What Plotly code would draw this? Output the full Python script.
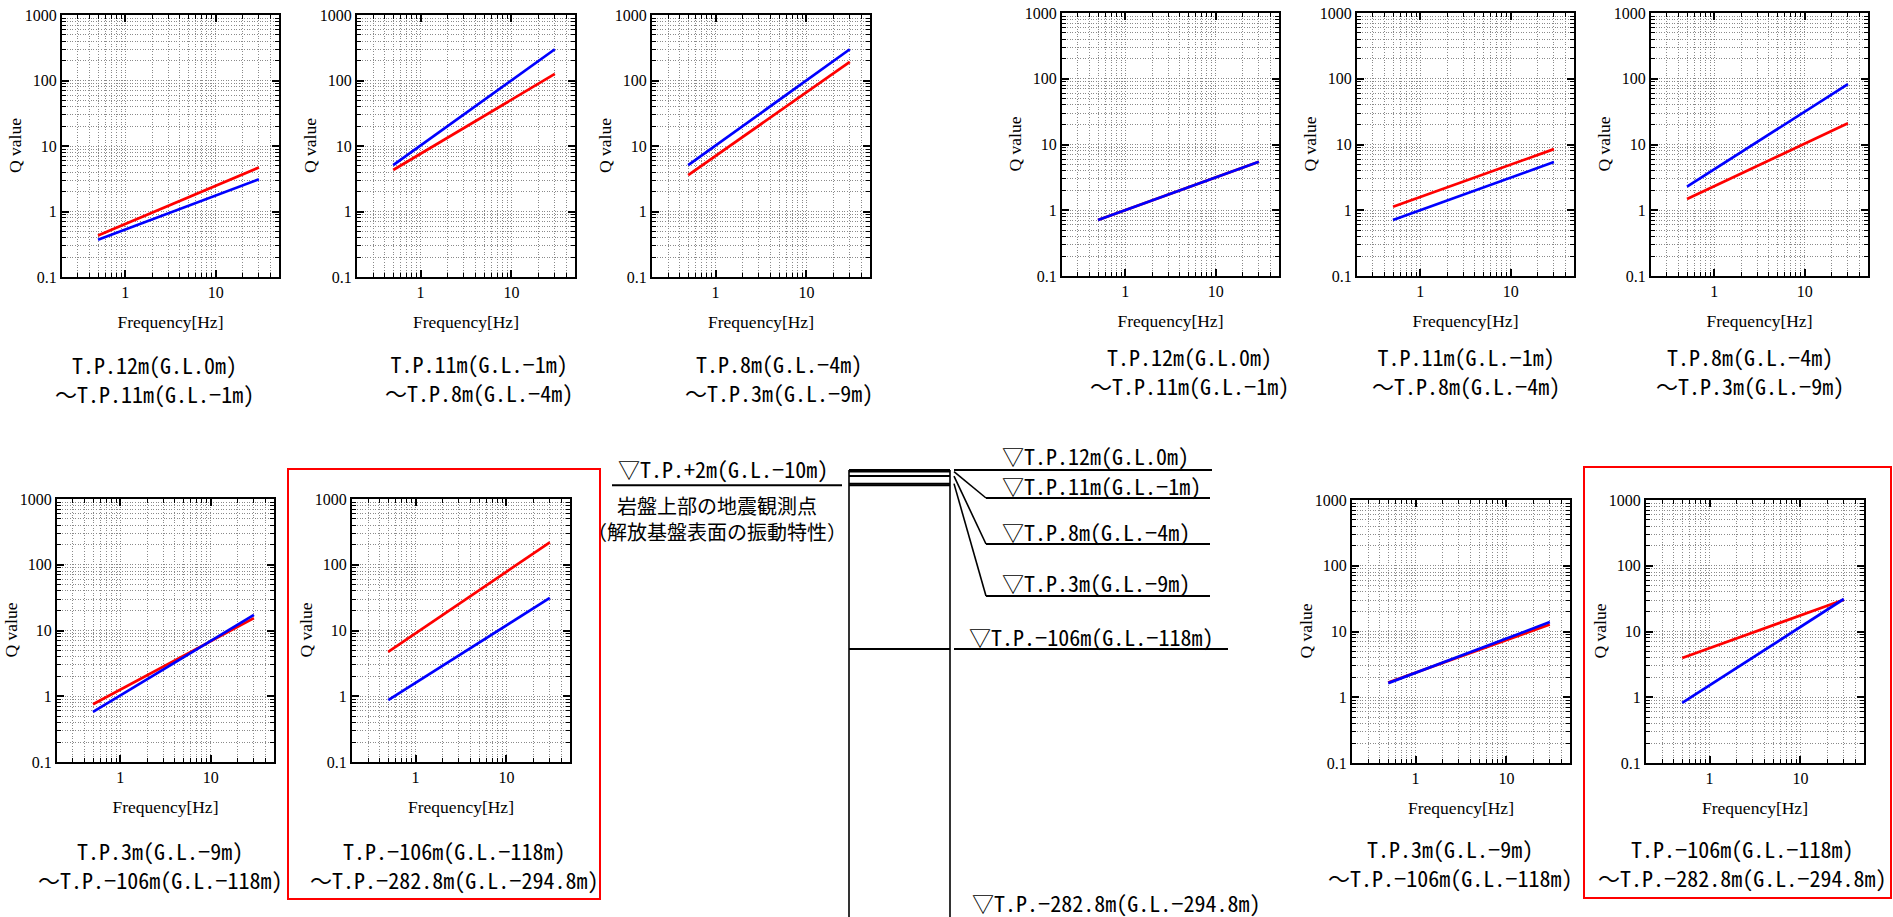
import math
import plotly.graph_objects as go

W, H = 1893, 917

# ---------------- data ----------------
freq_hz = [0.5, 30]

# left set (panels L1..L5), Q value at 0.5 Hz and 30 Hz
red_L1 = [0.43, 4.7]
blue_L1 = [0.37, 3.1]
red_L2 = [4.3, 126]
blue_L2 = [5.1, 300]
red_L3 = [3.6, 192]
blue_L3 = [5.1, 300]
red_L4 = [0.755, 15.4]
blue_L4 = [0.58, 17.3]
red_L5 = [4.73, 219]
blue_L5 = [0.87, 31.4]

# right set (panels R1..R5)
red_R1 = [0.71, 5.45]
blue_R1 = [0.71, 5.45]
red_R2 = [1.13, 8.5]
blue_R2 = [0.71, 5.4]
red_R3 = [1.48, 21]
blue_R3 = [2.28, 82.7]
red_R4 = [1.68, 12.8]
blue_R4 = [1.64, 13.9]
red_R5 = [3.96, 30.4]
blue_R5 = [0.82, 31.2]

sub_titles = [
    "T.P.12m(G.L.0m)<br>～T.P.11m(G.L.−1m)",
    "T.P.11m(G.L.−1m)<br>～T.P.8m(G.L.−4m)",
    "T.P.8m(G.L.−4m)<br>～T.P.3m(G.L.−9m)",
    "T.P.3m(G.L.−9m)<br>～T.P.−106m(G.L.−118m)",
    "T.P.−106m(G.L.−118m)<br>～T.P.−282.8m(G.L.−294.8m)",
]

x_tick_vals = [1, 10]
x_tick_text = ["1", "10"]
y_tick_vals = [0.1, 1, 10, 100, 1000]
y_tick_text = ["0.1", "1", "10", "100", "1000"]
x_title = "Frequency[Hz]"
y_title = "Q value"

# soil column levels
level_tp = ["+2", "12", "11", "8", "3", "−106", "−282.8"]
level_gl = [-10, 0, -1, -4, -9, -118, -294.8]
level_labels = [
    "▽T.P.12m(G.L.0m)",
    "▽T.P.11m(G.L.−1m)",
    "▽T.P.8m(G.L.−4m)",
    "▽T.P.3m(G.L.−9m)",
    "▽T.P.−106m(G.L.−118m)",
    "▽T.P.−282.8m(G.L.−294.8m)",
]
rock_label = "▽T.P.+2m(G.L.−10m)"
rock_note = "岩盤上部の地震観測点<br>（解放基盤表面の振動特性）"

# ---------------- layout helpers ----------------
SERIF = "Liberation Serif"
GOTH = "Noto Sans Mono CJK JP, Noto Sans CJK JP, sans-serif"

def px(x):
    return x / W

def py(y):
    return 1 - y / H

panels = [
    # (red, blue, box x0, x1, y0, y1, subtitle index, subtitle centre x, y)
    (red_L1, blue_L1, 62, 279, 15, 277, 0, 154, 378),
    (red_L2, blue_L2, 357, 575, 15, 277, 1, 479, 377),
    (red_L3, blue_L3, 652, 870, 15, 277, 2, 779, 377),
    (red_L4, blue_L4, 57, 274, 499, 762, 3, 160, 864),
    (red_L5, blue_L5, 352, 570, 499, 762, 4, 454, 864),
    (red_R1, blue_R1, 1062, 1279, 13, 276, 0, 1189, 370),
    (red_R2, blue_R2, 1357, 1574, 13, 276, 1, 1466, 370),
    (red_R3, blue_R3, 1651, 1868, 13, 276, 2, 1750, 370),
    (red_R4, blue_R4, 1352, 1570, 500, 763, 3, 1450, 862),
    (red_R5, blue_R5, 1646, 1864, 500, 763, 4, 1742, 862),
]

def minor_vals(lo_exp, hi_exp, lo, hi):
    out = []
    for e in range(lo_exp, hi_exp + 1):
        for d in range(2, 10):
            v = d * 10 ** e
            if lo <= v <= hi:
                out.append(v)
    return out

x_minor = minor_vals(-1, 1, 0.2, 50)
y_minor = minor_vals(-1, 2, 0.1, 1000)

GRID = "#8a8a8a"
GDASH = "1px,1.6px"

fig = go.Figure()
layout = dict(
    width=W, height=H,
    margin=dict(l=0, r=0, t=0, b=0),
    paper_bgcolor="white", plot_bgcolor="rgba(0,0,0,0)",
    template="none", showlegend=False,
    shapes=[], annotations=[],
)

for i, (rd, bl, x0, x1, y0, y1, si, sx, sy) in enumerate(panels, start=1):
    xa = "x" if i == 1 else f"x{i}"
    ya = "y" if i == 1 else f"y{i}"
    fig.add_trace(go.Scatter(x=freq_hz, y=rd, mode="lines",
                             line=dict(color="#ff0000", width=2.7),
                             xaxis=xa, yaxis=ya, hoverinfo="skip"))
    fig.add_trace(go.Scatter(x=freq_hz, y=bl, mode="lines",
                             line=dict(color="#0000ff", width=2.7),
                             xaxis=xa, yaxis=ya, hoverinfo="skip"))
    common = dict(
        type="log", ticks="inside", ticklen=7, tickwidth=1.5, tickcolor="black",
        showline=True, linewidth=2.2, linecolor="black", mirror="allticks",
        showgrid=True, gridcolor=GRID, griddash=GDASH, gridwidth=1,
        zeroline=False, automargin=False, fixedrange=True,
        tickfont=dict(family=SERIF, size=16, color="black"),
        tickmode="array",
    )
    xaxis = dict(common,
                 domain=[px(x0), px(x1)], anchor=ya,
                 range=[math.log10(0.2), math.log10(50)],
                 tickvals=x_tick_vals, ticktext=x_tick_text,
                 minor=dict(tickvals=x_minor, ticks="inside", ticklen=4, tickwidth=1,
                            tickcolor="black", showgrid=True, gridcolor=GRID,
                            griddash=GDASH, gridwidth=1),
                 title=dict(text=x_title, standoff=15,
                            font=dict(family=SERIF, size=17.5, color="black")))
    yaxis = dict(common,
                 domain=[py(y1), py(y0)], anchor=xa,
                 range=[-1, 3],
                 tickvals=y_tick_vals, ticktext=y_tick_text,
                 minor=dict(tickvals=y_minor, ticks="inside", ticklen=4, tickwidth=1,
                            tickcolor="black", showgrid=True, gridcolor=GRID,
                            griddash=GDASH, gridwidth=1))
    layout["xaxis" if i == 1 else f"xaxis{i}"] = xaxis
    layout["yaxis" if i == 1 else f"yaxis{i}"] = yaxis
    # y axis title
    layout["annotations"].append(dict(
        text=y_title, x=px(x0 - 47), y=py((y0 + y1) / 2), xref="paper", yref="paper",
        xanchor="center", yanchor="middle", showarrow=False, textangle=-90,
        font=dict(family=SERIF, size=17.5, color="black")))
    # panel caption
    layout["annotations"].append(dict(
        text=sub_titles[si], x=px(sx), y=py(sy), xref="paper", yref="paper",
        xanchor="center", yanchor="middle", showarrow=False, align="center",
        font=dict(family=GOTH, size=22, color="black")))

# ---------------- soil column diagram (axis: x in px, y = G.L. depth) ----------------
DX0, DX1 = 580, 1262
TOP_PX = 455
GL0_PX = 470
gl_bottom = min(level_gl)
scale = (H - GL0_PX) / (0 - gl_bottom)   # px per metre
gl_top = (GL0_PX - TOP_PX) / scale

def gl_of(ypx):
    return (GL0_PX - ypx) / scale

layout["xaxis11"] = dict(domain=[px(DX0), px(DX1)], range=[DX0, DX1], visible=False,
                         fixedrange=True, anchor="y11")
layout["yaxis11"] = dict(domain=[0, py(TOP_PX)], range=[gl_bottom, gl_top], visible=False,
                         fixedrange=True, anchor="x11")

COL_L, COL_R = 849, 950
hx, hy = [], []
for g in level_gl[:-1]:
    hx += [COL_L, COL_R, None]
    hy += [g, g, None]
fig.add_trace(go.Scatter(x=hx, y=hy, mode="lines", line=dict(color="black", width=2),
                         xaxis="x11", yaxis="y11", hoverinfo="skip", cliponaxis=False))
fig.add_trace(go.Scatter(x=[COL_L, COL_L, None, COL_R, COL_R],
                         y=[0, gl_bottom, None, 0, gl_bottom], mode="lines",
                         line=dict(color="black", width=1.6),
                         xaxis="x11", yaxis="y11", hoverinfo="skip", cliponaxis=False))

def seg(xa, ga, xb, gb, w=2):
    layout["shapes"].append(dict(type="line", xref="x11", yref="y11",
                                 x0=xa, y0=ga, x1=xb, y1=gb,
                                 line=dict(color="black", width=w)))

seg(954, 0, 1212, 0)
seg(954, -118, 1228, -118)
seg(612, -10, 842, -10)
for g, ylab in [(-1, 498), (-4, 544), (-9, 596)]:
    seg(954, g, 986, gl_of(ylab), 1.6)
    seg(986, gl_of(ylab), 1210, gl_of(ylab))

label_pos = [(1000, 455), (1000, 485), (1000, 531), (1000, 582), (967, 636), (970, 902)]
for txt, (lx, ly) in zip(level_labels, label_pos):
    layout["annotations"].append(dict(
        text=txt, x=px(lx), y=py(ly), xref="paper", yref="paper",
        xanchor="left", yanchor="middle", showarrow=False,
        font=dict(family=GOTH, size=22, color="black")))

layout["annotations"].append(dict(
    text=rock_label, x=px(723), y=py(468), xref="paper", yref="paper",
    xanchor="center", yanchor="middle", showarrow=False,
    font=dict(family=GOTH, size=22, color="black")))
layout["annotations"].append(dict(
    text=rock_note, x=px(717), y=py(518), xref="paper", yref="paper",
    xanchor="center", yanchor="middle", showarrow=False, align="center",
    font=dict(family=GOTH, size=20, color="black")))

# red highlight frames
for (bx0, by0, bx1, by1) in [(288, 469, 600, 899), (1584, 467, 1891, 898)]:
    layout["shapes"].append(dict(type="rect", xref="paper", yref="paper",
                                 x0=px(bx0), x1=px(bx1), y0=py(by1), y1=py(by0),
                                 line=dict(color="#ff0000", width=2)))

fig.update_layout(**layout)
fig.write_html("out.html", config={"displayModeBar": False},
               post_script="document.body.style.margin='0';document.body.style.overflow='hidden';")
